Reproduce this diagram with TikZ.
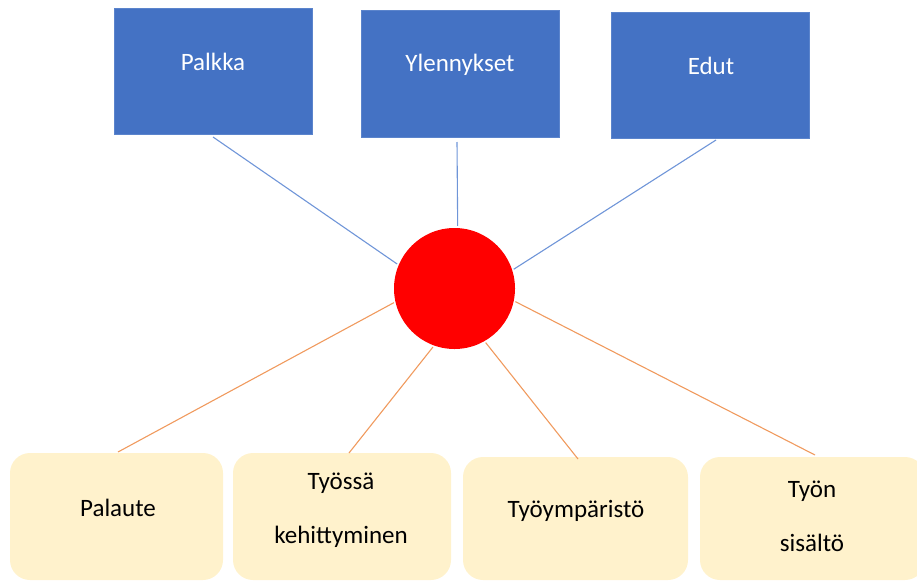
\documentclass[tikz,border=0pt]{standalone}
\usepackage{fontspec}
\setmainfont{Carlito}
\definecolor{topblue}{HTML}{4472C4}
\definecolor{topedge}{HTML}{5B84CC}
\definecolor{boxyel}{HTML}{FFF2CC}
\definecolor{lineblue}{HTML}{6F95D8}
\definecolor{lineorange}{HTML}{F09A5E}
\begin{document}
\begin{tikzpicture}[x=1pt,y=-1pt,
  topbox/.style={rectangle,fill=topblue,draw=topedge,line width=0.8pt,inner sep=0pt},
  botbox/.style={rectangle,fill=boxyel,rounded corners=20pt,inner sep=0pt},
  hub/.style={circle,fill=red,inner sep=0pt,minimum size=121pt},
  toptext/.style={text=white,font=\fontsize{25}{30}\selectfont,inner sep=0pt},
  bottext/.style={text=black,font=\fontsize{25}{54}\selectfont,align=center,inner sep=0pt},
  blueline/.style={draw=lineblue,line width=1.1pt},
  orangeline/.style={draw=lineorange,line width=1.1pt}]
\useasboundingbox (0,0) rectangle (917,581);
\clip (0,0) rectangle (917,581);
% top boxes
\node[topbox,minimum width=198pt,minimum height=126pt] (palkka) at (213,71) {};
\node[topbox,minimum width=198pt,minimum height=127pt] (ylen) at (460,73.5) {};
\node[topbox,minimum width=198pt,minimum height=126pt] (edut) at (710,75) {};
\node[toptext] (tpalkka) at (213,62) {Palkka};
\node[toptext] (tylen) at (460,65) {Ylennykset};
\node[toptext] (tedut) at (711,66) {Edut};
% hub
\node[hub] (hub) at (454.5,288.5) {};
% bottom boxes
\node[botbox,minimum width=213pt,minimum height=127pt] (palaute) at (116.5,516.5) {};
\node[botbox,minimum width=218pt,minimum height=127pt] (kehit) at (342,516.5) {};
\node[botbox,minimum width=225pt,minimum height=123pt] (ymp) at (575.5,518.5) {};
\node[botbox,minimum width=225pt,minimum height=123pt] (sisalto) at (812.5,518.5) {};
\node[bottext] (tpalaute) at (118,508) {Palaute};
\node[bottext] (tkehit) at (341,510) {Työssä\\kehittyminen};
\node[bottext] (tymp) at (576,511) {Työympäristö};
\node[bottext] (tsisalto) at (812,516) {Työn\\sisältö};
% connector end points
\coordinate (cpalkka) at (213,137);
\coordinate (cylen) at (457,142);
\coordinate (cedut) at (716,140);
\coordinate (cpalaute) at (118,452);
\coordinate (ckehit) at (349,453);
\coordinate (cymp) at (578,459);
\coordinate (csisalto) at (815,455);
% connectors
\draw[blueline] (hub.157) ++(-1.5,-0.8) -- (cpalkka);
\draw[blueline] (hub.87) ++(0,-2) -- (cylen);
\draw[blueline] (hub.18) ++(1.5,-0.5) -- (cedut);
\draw[orangeline] (hub.193) ++(-1.5,0.5) -- (cpalaute);
\draw[orangeline] (hub.250) ++(-0.8,1.5) -- (ckehit);
\draw[orangeline] (hub.300) ++(0.8,1.5) -- (cymp);
\draw[orangeline] (hub.348) ++(1.5,0.5) -- (csisalto);
\end{tikzpicture}
\end{document}
